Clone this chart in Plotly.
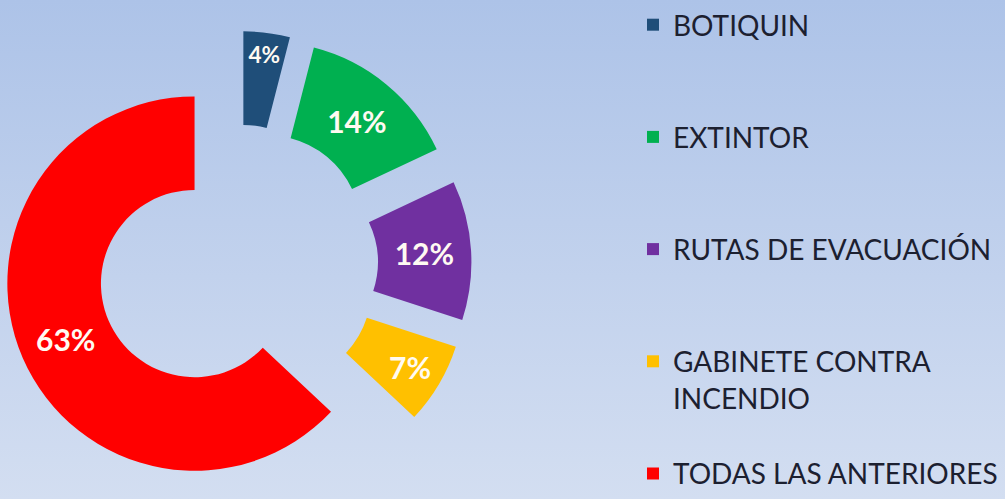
import base64
import plotly.graph_objects as go

# ---- data ----
categories = ["BOTIQUIN", "EXTINTOR", "RUTAS DE EVACUACIÓN",
              "GABINETE CONTRA INCENDIO", "TODAS LAS ANTERIORES"]
values = [4, 14, 12, 7, 63]
legend_labels = ["BOTIQUIN<br> <br> ", "EXTINTOR<br> <br> ",
                 "RUTAS DE EVACUACIÓN<br> <br> ",
                 "GABINETE CONTRA<br>INCENDIO<br> ",
                 "TODAS LAS ANTERIORES"]
colors = ["#1f4e79", "#00b050", "#7030a0", "#ffc000", "#ff0000"]

W, H = 1005, 499

# gradient background as an inline svg image
svg = (
    f'<svg xmlns="http://www.w3.org/2000/svg" width="{W}" height="{H}" '
    f'preserveAspectRatio="none" viewBox="0 0 {W} {H}">'
    '<defs><linearGradient id="g" x1="0" y1="0" x2="0" y2="1">'
    '<stop offset="0" stop-color="#adc3e8"/>'
    '<stop offset="1" stop-color="#d3def1"/>'
    '</linearGradient></defs>'
    f'<rect width="{W}" height="{H}" fill="url(#g)"/></svg>'
)
bg_src = "data:image/svg+xml;base64," + base64.b64encode(svg.encode()).decode()

fig = go.Figure()
fig.add_trace(go.Pie(
    labels=legend_labels,
    values=values,
    customdata=categories,
    sort=False,
    direction="clockwise",
    rotation=0,
    hole=0.5,
    pull=[0.25] * len(values),
    marker=dict(colors=colors, line=dict(width=0)),
    textinfo="percent",
    textposition="inside",
    insidetextorientation="horizontal",
    textfont=dict(family="Lato", size=30, color="#fffaf2", weight="bold"),
    hovertemplate="%{customdata}: %{value}%<extra></extra>",
    domain=dict(x=[0, 475 / W], y=[0, 468 / H]),
))

fig.update_layout(
    width=W, height=H,
    margin=dict(l=0, r=0, t=0, b=0),
    paper_bgcolor="#bfcfec",
    plot_bgcolor="rgba(0,0,0,0)",
    showlegend=True,
    legend=dict(
        x=633 / W, xanchor="left",
        y=1.0, yanchor="top",
        valign="top",
        bgcolor="rgba(0,0,0,0)",
        font=dict(family="Lato", size=28, color="#1c2030"),
        traceorder="normal",
    ),
    images=[dict(
        source=bg_src, xref="paper", yref="paper",
        x=0, y=1, sizex=1, sizey=1, xanchor="left", yanchor="top",
        sizing="stretch", layer="below",
    )],
)

fig.write_html(
    "out.html",
    config={"displayModeBar": False},
    post_script="document.body.style.margin='0';document.body.style.padding='0';"
                "document.body.style.overflow='hidden';",
)
